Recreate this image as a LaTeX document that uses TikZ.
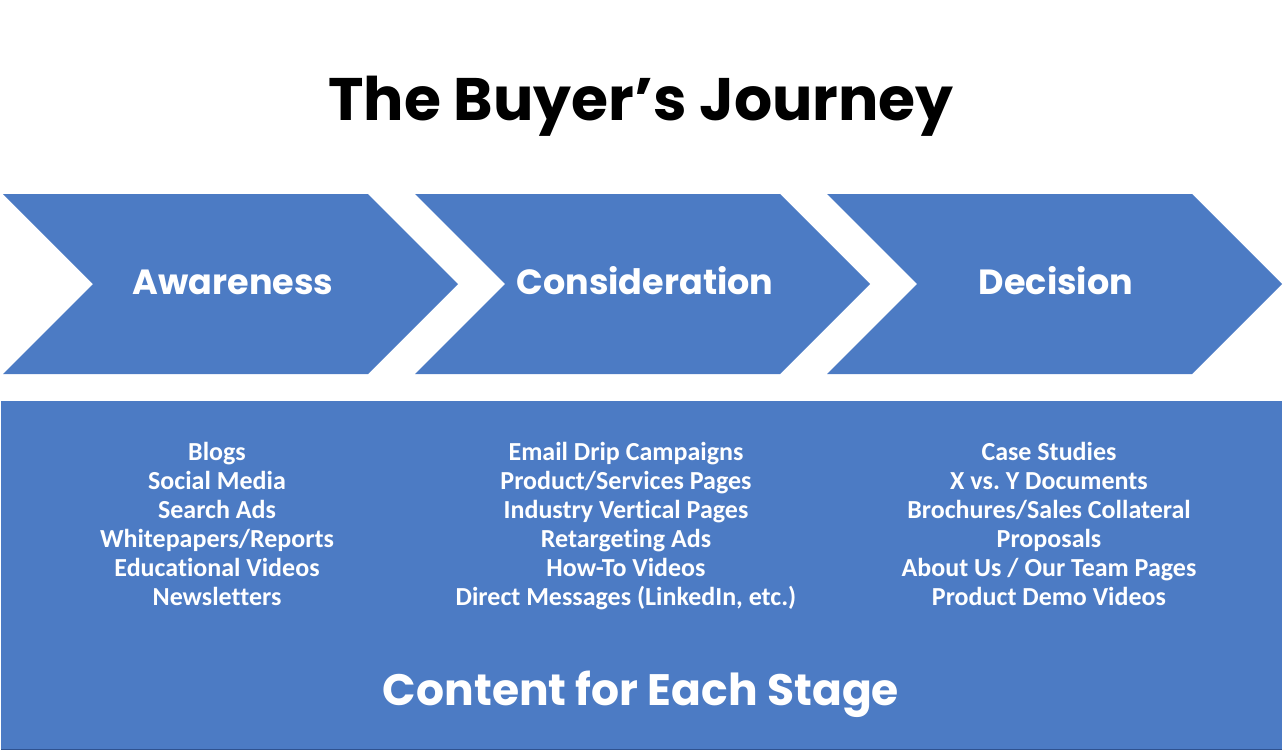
\documentclass[tikz,border=0pt]{standalone}
\usepackage{fontspec}
\newfontfamily\popfont{Poppins}
\newfontfamily\listfont[Ligatures=NoCommon]{Carlito}
\definecolor{jblue}{RGB}{76,123,196}
\definecolor{jdark}{RGB}{47,82,143}
\begin{document}
\begin{tikzpicture}[x=1pt,y=-1pt,
  chev/.style={fill=jblue},
  stagelbl/.style={text=white,anchor=base,font=\popfont\bfseries\fontsize{35}{38}\selectfont},
  listlbl/.style={text=white,anchor=north,align=center,font=\listfont\bfseries\fontsize{26}{29}\selectfont},
]
\useasboundingbox (0,0) rectangle (1283,750);
% title
\node[anchor=base,font=\popfont\bfseries\fontsize{60}{64}\selectfont] (title) at (641,120) {The Buyer’s Journey};
% chevrons
\foreach \x/\n in {3/a,415/b,827/c}{
  \fill[chev] (\x,194) -- (\x+365,194) -- (\x+455,284) -- (\x+365,374) -- (\x,374) -- (\x+90,284) -- cycle;
}
\node[stagelbl] (aw) at (233,294) {Awareness};
\node[stagelbl] (co) at (645,294) {Consideration};
\node[stagelbl] (de) at (1056,294) {Decision};
% content box
\fill[jblue] (1,401) rectangle (1282,749);
\draw[jdark,line width=1pt] (1,749) -- (1282,749);
\node[listlbl] (l1) at (217,439) {Blogs\\Social Media\\Search Ads\\Whitepapers/Reports\\Educational Videos\\Newsletters};
\node[listlbl] (l2) at (626,439) {Email Drip Campaigns\\Product/Services Pages\\Industry Vertical Pages\\Retargeting Ads\\How-To Videos\\Direct Messages (LinkedIn, etc.)};
\node[listlbl] (l3) at (1049,439) {Case Studies\\X vs.\ Y Documents\\Brochures/Sales Collateral\\Proposals\\About Us / Our Team Pages\\Product Demo Videos};
\node[stagelbl,font=\popfont\bfseries\fontsize{44}{48}\selectfont] (cfs) at (641,705) {Content for Each Stage};
\end{tikzpicture}
\end{document}
